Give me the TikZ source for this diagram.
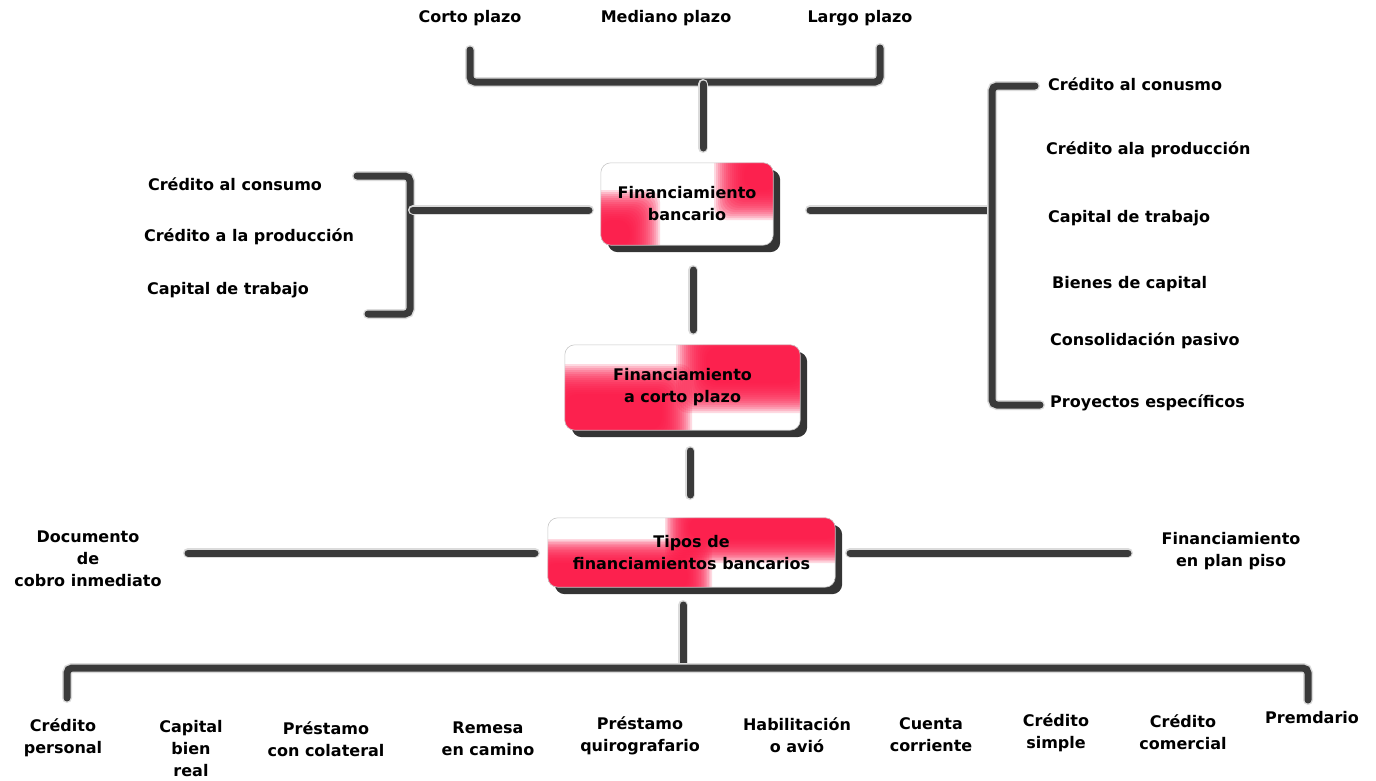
\documentclass[tikz,border=0pt]{standalone}
\usepackage{fontspec}
\setmainfont{DejaVu Sans}
\definecolor{barc}{RGB}{58,58,58}
\definecolor{boxred}{RGB}{252,22,70}
\definecolor{shadowc}{RGB}{52,52,52}
\pgfdeclarelayer{bg}
\pgfsetlayers{bg,main}
\tikzset{
  lbl/.style={font=\bfseries\fontsize{16}{22}\selectfont, align=center, inner sep=0pt, text=black},
  boxnode/.style={lbl, rectangle},
  link/.style={draw=barc, line width=7pt, rounded corners=5pt, line cap=round},
  linkglow/.style={draw=black!14, line width=10pt, rounded corners=5pt, line cap=round},
  boxshadow/.style={fill=shadowc, rounded corners=10pt},
  boxedge/.style={draw=black!22, line width=0.6pt, rounded corners=10pt},
}
\newcommand{\conn}[1]{\draw[linkglow] #1; \draw[link] #1;}
% red soft zone: x1,y1,x2,y2,step
\newcommand{\redzone}[5]{%
  \foreach \i in {0,...,15}{%
    \fill[boxred, fill opacity=0.16, rounded corners=12pt]
      ({#1+\i*#5},{#2+\i*#5}) rectangle ({#3-\i*#5},{#4-\i*#5});}}
\newcommand{\fancybox}[1]{%
  \fill[boxshadow] ([shift={(7,7)}]#1.north west) rectangle ([shift={(7,7)}]#1.south east);
  \begin{scope}
    \clip[rounded corners=10pt] (#1.north west) rectangle (#1.south east);
    \fill[white] (#1.north west) rectangle (#1.south east);
  \end{scope}}
\begin{document}
\begin{tikzpicture}[x=1pt,y=-1pt]
\useasboundingbox (0,0) rectangle (1376,780);

% ---------- boxes ----------
\node[boxnode, minimum width=172pt, minimum height=82pt] (b1) at (687,204) {Financiamiento\\bancario};
\node[boxnode, minimum width=235pt, minimum height=85pt] (b2) at (682.5,387.5) {Financiamiento\\a corto plazo};
\node[boxnode, minimum width=287pt, minimum height=69pt] (b3) at (691.5,552.5) {Tipos de\\financiamientos bancarios};

\begin{pgfonlayer}{bg}
  \fancybox{b1}
  \begin{scope}
    \clip[rounded corners=10pt] (b1.north west) rectangle (b1.south east);
    \redzone{714}{132}{808}{220}{2}
    \redzone{570}{190}{660}{278}{2}
  \end{scope}
  \draw[boxedge] (b1.north west) rectangle (b1.south east);

  \fancybox{b2}
  \begin{scope}
    \clip[rounded corners=10pt] (b2.north west) rectangle (b2.south east);
    \redzone{676}{317}{830}{413}{2}
    \redzone{535}{364}{692}{460}{2}
  \end{scope}
  \draw[boxedge] (b2.north west) rectangle (b2.south east);

  \fancybox{b3}
  \begin{scope}
    \clip[rounded corners=10pt] (b3.north west) rectangle (b3.south east);
    \redzone{665}{492}{862}{563}{1.6}
    \redzone{520}{539}{712}{614}{1.6}
  \end{scope}
  \draw[boxedge] (b3.north west) rectangle (b3.south east);
\end{pgfonlayer}

% ---------- labels ----------
\node[lbl] (ct) at (470,18) {Corto plazo};
\node[lbl] (mp) at (666,18) {Mediano plazo};
\node[lbl] (lp) at (860,18) {Largo plazo};

\node[lbl] (l1) at (235,184) {Crédito al consumo};
\node[lbl] (l2) at (249,237) {Crédito a la producción};
\node[lbl] (l3) at (228,290) {Capital de trabajo};

\node[lbl, anchor=west] (r1) at (1048,84) {Crédito al conusmo};
\node[lbl, anchor=west] (r2) at (1046,150) {Crédito ala producción};
\node[lbl, anchor=west] (r3) at (1048,218) {Capital de trabajo};
\node[lbl, anchor=west] (r4) at (1052,284) {Bienes de capital};
\node[lbl, anchor=west] (r5) at (1050,341) {Consolidación pasivo};
\node[lbl, anchor=west] (r6) at (1050,403) {Proyectos específicos};

\node[lbl] (dc) at (88,559) {Documento\\de\\cobro inmediato};
\node[lbl] (fp) at (1231,551) {Financiamiento\\en plan piso};

\node[lbl] (k1) at (63,738) {Crédito\\personal};
\node[lbl] (k2) at (191,749) {Capital\\bien\\real};
\node[lbl] (k3) at (326,739) {Préstamo\\con colateral};
\node[lbl] (k4) at (488,739) {Remesa\\en camino};
\node[lbl] (k5) at (640,736) {Préstamo\\quirografario};
\node[lbl] (k6) at (797,735.5) {Habilitación\\o avió};
\node[lbl] (k7) at (931,735) {Cuenta\\corriente};
\node[lbl] (k8) at (1056,733) {Crédito\\simple};
\node[lbl] (k9) at (1183,732) {Crédito\\comercial};
\node[lbl] (k10) at (1312,718) {Premdario};

% ---------- connector coordinates ----------
\coordinate (tL) at (470,50);
\coordinate (tLb) at (470,82);
\coordinate (tRb) at (880,82);
\coordinate (tR) at (880,48);
\coordinate (tM) at (703,84);
\coordinate (tMe) at (703,148);

\coordinate (lA) at (357,176);
\coordinate (lB) at (410,176);
\coordinate (lC) at (410,314);
\coordinate (lD) at (368,314);
\coordinate (lM) at (413,210);
\coordinate (lE) at (589,210);

\coordinate (rM) at (810,210);
\coordinate (rE) at (989,210);
\coordinate (rA) at (1035,86);
\coordinate (rB) at (992,86);
\coordinate (rC) at (992,405);
\coordinate (rD) at (1040,405);

\coordinate (s1a) at (693,270);
\coordinate (s1b) at (693,330);
\coordinate (s2a) at (690,451);
\coordinate (s2b) at (690,495);
\coordinate (s3a) at (683,605);
\coordinate (s3b) at (683,664);

\coordinate (dL) at (188,553);
\coordinate (dR) at (535,553);
\coordinate (fL) at (850,553);
\coordinate (fR) at (1128,553);

\coordinate (bA) at (67,698);
\coordinate (bB) at (67,668);
\coordinate (bC) at (1308,668);
\coordinate (bD) at (1308,700);

% ---------- connectors ----------
\conn{(tL) -- (tLb) -- (tRb) -- (tR)}
\conn{(tM) -- (tMe)}
\conn{(lA) -- (lB) -- (lC) -- (lD)}
\conn{(lM) -- (lE)}
\conn{(rM) -- (rE)}
\conn{(rA) -- (rB) -- (rC) -- (rD)}
\conn{(s1a) -- (s1b)}
\conn{(s2a) -- (s2b)}
\conn{(s3a) -- (s3b)}
\conn{(dL) -- (dR)}
\conn{(fL) -- (fR)}
\conn{(bA) -- (bB) -- (bC) -- (bD)}
\end{tikzpicture}
\end{document}
